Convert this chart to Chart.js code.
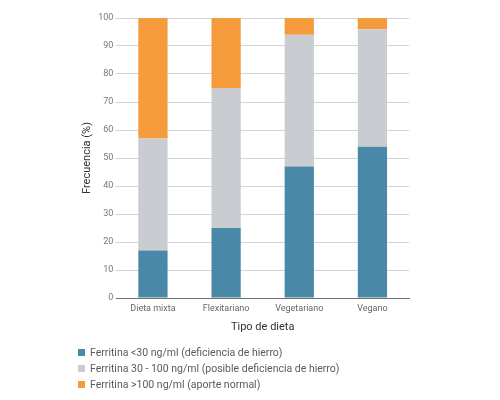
<!DOCTYPE html>
<html>
<head>
<meta charset="utf-8">
<script src="https://cdn.jsdelivr.net/npm/chart.js@4/dist/chart.umd.min.js"></script>
<style>
  html, body { margin: 0; padding: 0; background: #fff; }
  #wrap { position: relative; width: 500px; height: 400px; }
  #legend {
    position: absolute; left: 78px; top: 345px;
    font-family: Roboto, sans-serif; font-size: 10.5px; color: #5a5a5a;
  }
  .item { height: 16px; line-height: 16px; white-space: nowrap; }
  .box { display: inline-block; width: 7px; height: 7px; margin-right: 5px; vertical-align: 0px; }
</style>
</head>
<body>
<div id="wrap">
  <canvas id="chart" width="500" height="400"></canvas>
  <div id="legend"></div>
</div>
<script>
const categories = ["Dieta mixta", "Flexitariano", "Vegetariano", "Vegano"];
const seriesNames = [
  "Ferritina <30 ng/ml (deficiencia de hierro)",
  "Ferritina 30 - 100 ng/ml (posible deficiencia de hierro)",
  "Ferritina >100 ng/ml (aporte normal)",
];
const lowValues = [17, 25, 47, 54];
const midValues = [40, 50, 47, 42];
const highValues = [43, 25, 6, 4];
const colors = ["#4a88a7", "#c9cdd1", "#f59b3c"];

const datasets = [lowValues, midValues, highValues].map((vals, i) => ({
  label: seriesNames[i],
  data: vals,
  backgroundColor: colors[i],
  borderWidth: 0,
  categoryPercentage: 1,
  barPercentage: 0.4,
}));

// Legend as plain html, stacked one per line
const legendEl = document.getElementById("legend");
seriesNames.forEach((name, i) => {
  const row = document.createElement("div");
  row.className = "item";
  const box = document.createElement("span");
  box.className = "box";
  box.style.background = colors[i];
  row.appendChild(box);
  row.appendChild(document.createTextNode(name));
  legendEl.appendChild(row);
});

new Chart(document.getElementById("chart"), {
  type: "bar",
  data: { labels: categories, datasets },
  options: {
    responsive: false,
    animation: false,
    layout: { padding: { left: 77, right: 91, top: 18, bottom: 62 } },
    plugins: { legend: { display: false }, tooltip: { enabled: false } },
    scales: {
      x: {
        stacked: true,
        grid: { display: false, drawTicks: false },
        border: { color: "#6f6f6f", width: 1 },
        ticks: { font: { family: "Roboto", size: 9 }, color: "#666", padding: 5 },
        title: {
          display: true,
          text: "Tipo de dieta",
          font: { family: "Roboto", size: 11 },
          color: "#333",
          padding: { top: 2 },
        },
      },
      y: {
        stacked: true,
        min: 0,
        max: 100,
        ticks: { stepSize: 10, font: { family: "Roboto", size: 9 }, color: "#777", padding: 3 },
        grid: { color: "#d4d4d4", drawTicks: false },
        border: { display: false },
        title: {
          display: true,
          text: "Frecuencia (%)",
          font: { family: "Roboto", size: 11 },
          color: "#333",
          padding: { bottom: 1 },
        },
      },
    },
  },
});
</script>
</body>
</html>
